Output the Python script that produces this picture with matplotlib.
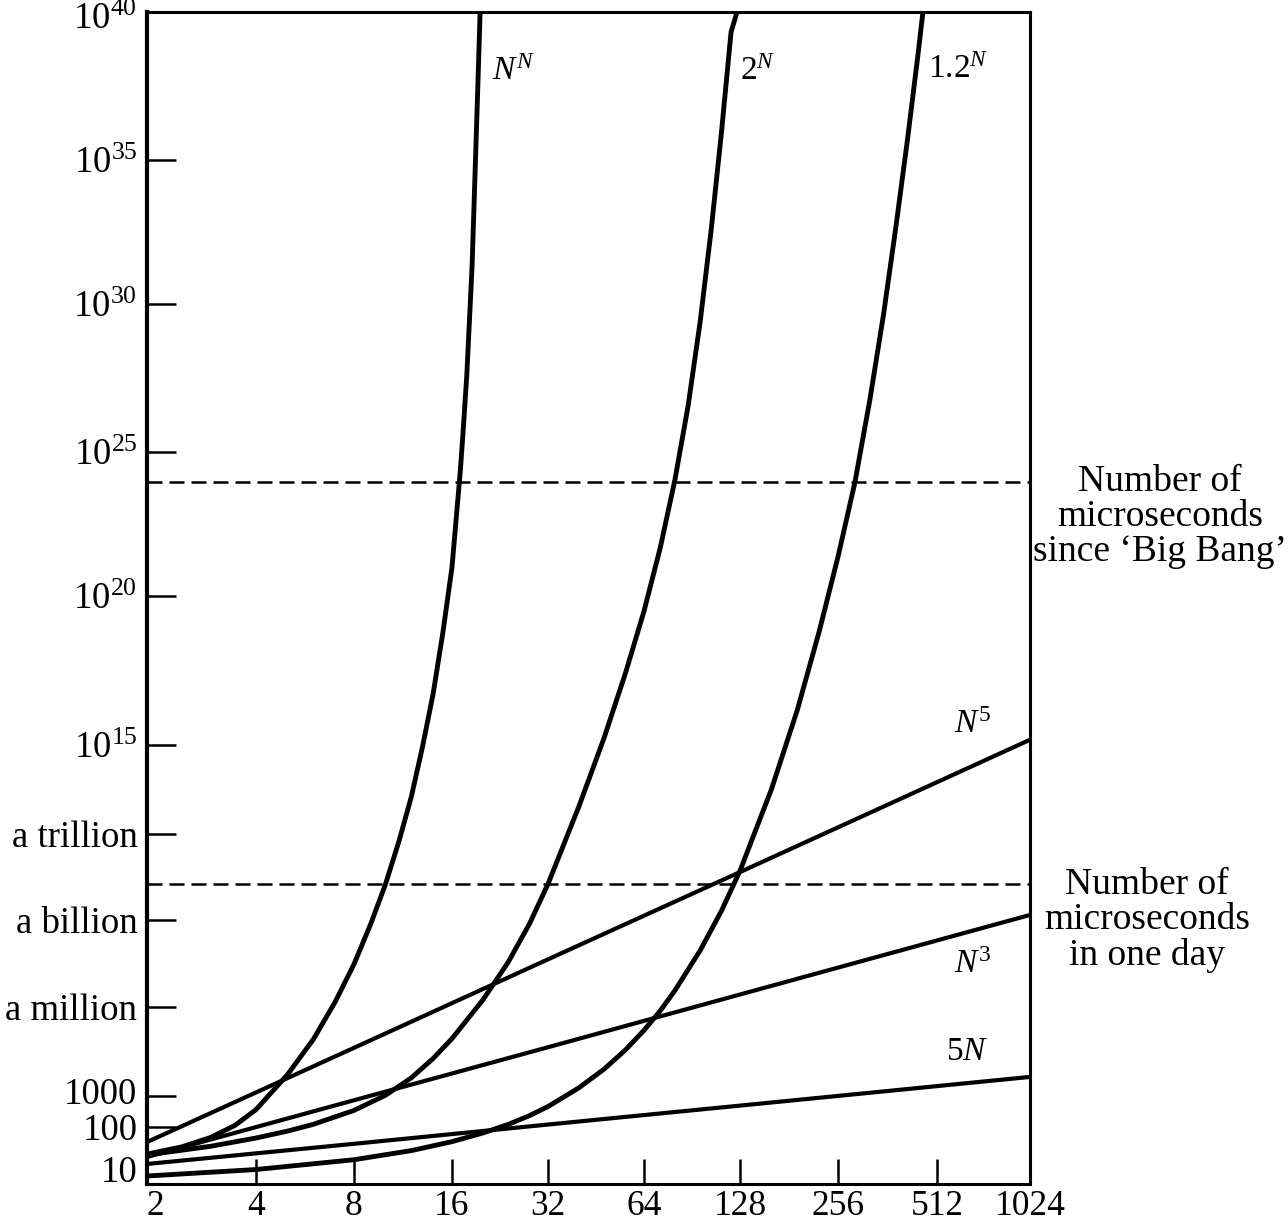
import numpy as np
import matplotlib
matplotlib.use('Agg')
import matplotlib.pyplot as plt
from matplotlib.transforms import ScaledTranslation

plt.rcParams['font.family'] = ['Liberation Serif', 'DejaVu Serif']
plt.rcParams['mathtext.fontset'] = 'custom'
plt.rcParams['mathtext.rm'] = 'Liberation Serif'
plt.rcParams['mathtext.it'] = 'Liberation Serif:italic'
plt.rcParams['mathtext.bf'] = 'Liberation Serif:bold'

# ---- data (N, time in microseconds) ----
nn_n = [2, 2.5, 3, 3.5, 4, 5, 6, 7, 8, 9, 10, 11, 12, 13, 14, 15, 16, 17, 17.3,
        17.8, 18.5, 19, 19.3, 19.6]
nn_t = [21, 32, 55, 113, 363, 5.3e3, 8.1e4, 1.49e6, 3.0e7, 7.2e8, 1.8e10, 5.7e11,
        1.8e13, 9.1e14, 5.2e16, 5.9e18, 1.0e21, 2.4e24, 3.5e25, 3.7e27, 2.2e31,
        2.2e35, 4.4e37, 1e40]

pow2_n = [2, 3, 4, 5, 6, 8, 10, 12, 14, 16, 20, 24, 28, 32, 40, 48, 56, 64, 72, 80,
          88, 96, 104, 112, 120, 125.3]
pow2_t = [20, 33, 53, 79, 122, 343, 1.06e3, 4.1e3, 1.84e4, 8.6e4, 1.76e6, 3.5e7,
          7.4e8, 1.8e10, 8.5e12, 1.76e15, 2.6e17, 3.1e19, 4.8e21, 1.07e24, 3.6e26,
          2.5e29, 3.9e32, 8.9e35, 2.1e39, 1e40]

p12_n = [2, 4, 8, 12, 16, 20, 24, 28, 32, 40, 48, 56, 64, 72, 80, 96, 112, 128, 160,
         192, 224, 256, 288, 320, 352, 384, 416, 448, 464]
p12_t = [2.95, 7.1, 15.2, 25.7, 43, 71, 121, 233, 457, 1.89e3, 8.1e3, 3.6e4, 1.64e5,
         7.5e5, 3.7e6, 8.9e7, 2.1e9, 5.2e10, 3.3e13, 1.5e16, 6.3e18, 2.3e21, 8.5e23,
         5.8e26, 4.3e29, 4.8e32, 4.5e35, 3.5e38, 1e40]

n5_n = [2, 8, 32, 128, 1024]
n5_t = [42, 4.2e4, 4.4e7, 4.7e10, 1.5e15]

n3_n = [2, 8, 32, 128, 1024]
n3_t = [17.8, 730, 4.4e4, 2.7e6, 1.5e9]

lin5_n = [2, 8, 32, 128, 1024]
lin5_t = [11.9, 38, 120, 490, 4.4e3]

big_bang_us = 9.1e23
one_day_us = 1.8e10

ytick_vals = [1e1, 1e2, 1e3, 1e6, 1e9, 1e12, 1e15, 1e20, 1e25, 1e30, 1e35, 1e40]
ytick_labels = ['10', '100', '1000', 'a million', 'a billion', 'a trillion',
                '$10^{15}$', '$10^{20}$', '$10^{25}$', '$10^{30}$', '$10^{35}$', '']
top_label = '$10^{40}$'
xtick_vals = [2, 4, 8, 16, 32, 64, 128, 256, 512, 1024]

# ---- the hand drawn axes are not quite uniform: piecewise scales ----
Y_LOGS = [0, 1, 2, 3, 6, 9, 12, 15, 20, 25, 30, 35, 40]
Y_POS = [0, 17, 57, 88, 177, 264, 350, 439, 588, 732, 880, 1024, 1172]
X_LOG2 = [1, 2, 3, 4, 5, 6, 7, 8, 9, 10]
X_POS = [0, 109, 207, 305, 401, 497, 593, 691, 790, 883]


def y_fwd(v):
    v = np.asarray(v, dtype=float)
    lv = np.log10(np.where(v > 0, v, 1e-300))
    return np.interp(lv, Y_LOGS, Y_POS)


def y_inv(h):
    return 10 ** np.interp(np.asarray(h, dtype=float), Y_POS, Y_LOGS)


def x_fwd(v):
    v = np.asarray(v, dtype=float)
    lv = np.log2(np.where(v > 0, v, 1e-300))
    return np.interp(lv, X_LOG2, X_POS)


def x_inv(h):
    return 2 ** np.interp(np.asarray(h, dtype=float), X_POS, X_LOG2)


W, H = 1288, 1225
fig = plt.figure(figsize=(W / 100, H / 100), dpi=100)
ax = fig.add_axes([147 / W, 1 - 1184 / H, 883 / W, 1172 / H])
ax.set_xscale('function', functions=(x_fwd, x_inv))
ax.set_yscale('function', functions=(y_fwd, y_inv))
ax.set_xlim(2, 1024)
ax.set_ylim(1, 1e40)

# dashed reference lines
ax.axhline(big_bang_us, color='black', lw=1.8, dashes=(6, 2.8))
ax.axhline(one_day_us, color='black', lw=1.8, dashes=(6, 2.8))

# curves
for n, t in [(nn_n, nn_t), (pow2_n, pow2_t), (p12_n, p12_t)]:
    ax.plot(n, t, color='black', lw=3.5, solid_joinstyle='round', solid_capstyle='butt')
for n, t in [(n5_n, n5_t), (n3_n, n3_t), (lin5_n, lin5_t)]:
    ax.plot(n, t, color='black', lw=3.0, solid_joinstyle='round', solid_capstyle='butt')

ax.set_yticks(ytick_vals)
ax.set_yticklabels(ytick_labels)
ax.set_xticks(xtick_vals)
ax.set_xticklabels([str(v) for v in xtick_vals])
ax.minorticks_off()
ax.tick_params(axis='y', direction='in', length=21, width=1.8, pad=7, labelsize=26.5)
ax.tick_params(axis='x', direction='in', length=18, width=1.8, pad=4.5, labelsize=25.5)

yticks = ax.yaxis.get_major_ticks()
yticks[0].tick1line.set_visible(False)
# the crowded bottom labels are nudged apart as in the drawing
for i, dy in [(0, -2), (2, 5)]:
    lab = yticks[i].label1
    lab.set_transform(lab.get_transform() + ScaledTranslation(0, dy / 100, fig.dpi_scale_trans))
ax.xaxis.get_major_ticks()[0].label1.set_horizontalalignment('left')

for side in ['top', 'right', 'bottom']:
    ax.spines[side].set_linewidth(2.2)
ax.spines['left'].set_linewidth(3.0)


def px(x, y):
    return x / W, 1 - y / H


# top tick label sits a little lower so it is not cut by the page edge
fig.text(*px(137, 20), top_label, fontsize=26.5, ha='right', va='center')

# curve labels
curve_labels = [('$N^{N}$', 492, 72), ('$2^{N}$', 740, 72), ('$1.2^{N}$', 928, 70),
                ('$N^{5}$', 954, 725), ('$N^{3}$', 954, 965), ('$5N$', 946, 1052)]
for txt, x, y in curve_labels:
    fig.text(*px(x, y), txt, fontsize=24, ha='left', va='center')

fig.text(*px(1160, 517), 'Number of\nmicroseconds\nsince \u2018Big Bang\u2019',
         fontsize=27, ha='center', va='center', multialignment='center', linespacing=1.02)
fig.text(*px(1147, 920), 'Number of\nmicroseconds\nin one day',
         fontsize=27, ha='center', va='center', multialignment='center', linespacing=1.02)

fig.savefig('out.png', dpi=100)
